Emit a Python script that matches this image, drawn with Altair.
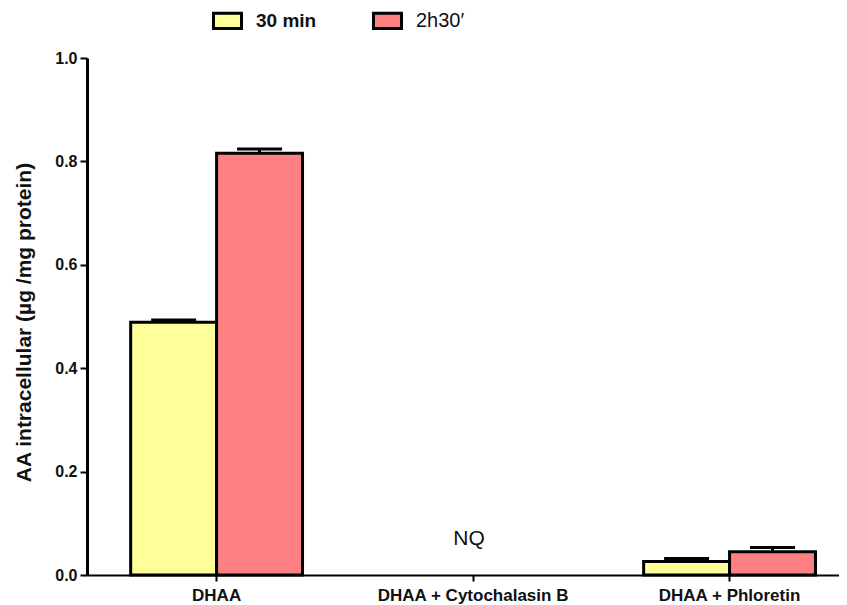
import altair as alt
import pandas as pd

categories = ["DHAA", "DHAA + Cytochalasin B", "DHAA + Phloretin"]
series = ["30 min", "2h30\u2032"]
mean_30 = [0.489, None, 0.026]
mean_150 = [0.816, None, 0.045]
err_30 = [0.004, None, 0.006]
err_150 = [0.008, None, 0.008]
notes = ["", "NQ", ""]
note_y = 0.07
colors = ["#FFFF99", "#FF8080"]

rows = []
for i, c in enumerate(categories):
    for s, m, e in ((series[0], mean_30[i], err_30[i]), (series[1], mean_150[i], err_150[i])):
        if m is not None:
            rows.append({"cat": c, "series": s, "mean": m, "top": m + e})
df = pd.DataFrame(rows)
df_note = pd.DataFrame({"cat": categories, "note": notes, "y": [note_y] * 3})
df_note = df_note[df_note["note"] != ""]

FONT = "Liberation Sans"

xscale = alt.Scale(paddingInner=0.33, paddingOuter=0.131, align=0.65)
x = alt.X("cat:N", sort=categories, title=None, scale=xscale,
          axis=alt.Axis(labelAngle=0, labelFont=FONT, labelFontSize=17, labelFontWeight="bold",
                        labelColor="#111", labelLimit=0, domainColor="#000", domainWidth=2,
                        tickColor="#000", tickWidth=2, tickSize=6, labelPadding=6))
xo = alt.XOffset("series:N", sort=series, scale=alt.Scale(paddingInner=0, paddingOuter=0))
yscale = alt.Scale(domain=[0, 1], nice=False)
yaxis = alt.Axis(values=[0, 0.2, 0.4, 0.6, 0.8, 1.0], format=".1f", labelFont=FONT, labelFontSize=16,
                 labelFontWeight="bold", labelColor="#111", domainColor="#000", domainWidth=3,
                 tickColor="#000", tickWidth=2, tickSize=7, labelPadding=3, grid=False,
                 title="AA intracellular (\u00b5g /mg protein)", titleFont=FONT, titleFontSize=21,
                 titleFontWeight="bold", titleColor="#111", titlePadding=20, titleY=264)

color = alt.Color("series:N", sort=series, scale=alt.Scale(domain=series, range=colors),
                  legend=alt.Legend(title=None, orient="none", legendX=125, legendY=-53, direction="horizontal",
                                    symbolType="M-1,-0.55H1V0.55H-1Z", symbolSize=784,
                                    symbolStrokeColor="#000", symbolStrokeWidth=3, symbolOpacity=1,
                                    labelFont=FONT, labelColor="#111",
                                    labelFontSize=alt.ExprRef("datum.label == '30 min' ? 19 : 20"),
                                    labelFontWeight=alt.ExprRef("datum.label == '30 min' ? 'bold' : 'normal'"),
                                    labelOffset=13, columnPadding=50))

bars = alt.Chart(df).mark_bar(stroke="#000", strokeWidth=3, opacity=1).encode(
    x=x, xOffset=xo, y=alt.Y("mean:Q", scale=yscale, axis=yaxis), color=color)

stems = alt.Chart(df).mark_rule(color="#000", strokeWidth=3).encode(
    x=x, xOffset=xo, y=alt.Y("mean:Q", scale=yscale), y2="top:Q")

caps = alt.Chart(df).mark_tick(color="#000", thickness=3, size=45, opacity=1).encode(
    x=x, xOffset=xo, y=alt.Y("top:Q", scale=yscale))

nq = alt.Chart(df_note).mark_text(font=FONT, fontSize=21, color="#111", dx=-4).encode(
    x=alt.X("cat:N", sort=categories, scale=xscale),
    y=alt.Y("y:Q", scale=yscale), text="note:N")

chart = alt.layer(bars, stems, caps, nq).properties(
    width=752, height=517, autosize=alt.AutoSizeParams(type="none"),
    padding={"left": 79, "top": 50, "right": 0, "bottom": 30}
).configure_view(stroke=None)

chart.save("out.html", embed_options={"renderer": "svg", "actions": False})
